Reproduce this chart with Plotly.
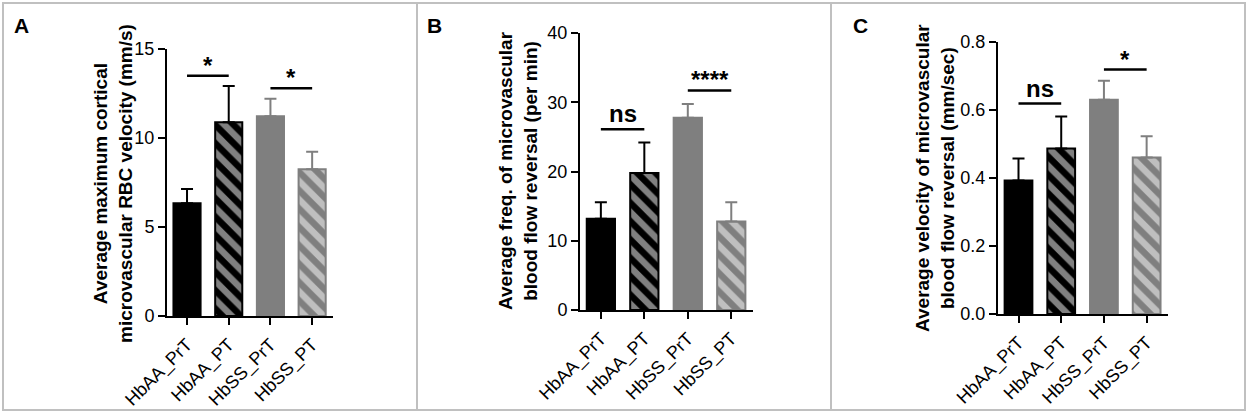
import plotly.graph_objects as go

# groups on the x axis
groups = ['HbAA_PrT', 'HbAA_PT', 'HbSS_PrT', 'HbSS_PT']

# panel A: max cortical RBC velocity (mm/s)
mean_a = [6.33, 10.88, 11.22, 8.24]
sem_a = [0.80, 2.04, 0.99, 0.99]
sig_a = [(0, 1, 13.5, '*'), (2, 3, 12.8, '*')]

# panel B: freq. of blood flow reversal (per min)
mean_b = [13.16, 19.8, 27.76, 12.77]
sem_b = [2.41, 4.39, 1.98, 2.8]
sig_b = [(0, 1, 26.1, 'ns'), (2, 3, 31.7, '****')]

# panel C: velocity of blood flow reversal (mm/sec)
mean_c = [0.393, 0.487, 0.630, 0.460]
sem_c = [0.064, 0.094, 0.056, 0.063]
sig_c = [(0, 1, 0.619, 'ns'), (2, 3, 0.719, '*')]

titles = ['Average maximum cortical<br>microvascular RBC velocity (mm/s)',
          'Average freq. of microvascular<br>blood flow reversal (per min)',
          'Average velocity of microvascular<br>blood flow reversal (mm/sec)']
letters = ['A', 'B', 'C']

FONT = 'Liberation Sans, Arial, sans-serif'
GRAY = '#7f7f7f'
bar_color = ['black', 'black', GRAY, GRAY]
hatched = [False, True, False, True]

W, H = 1248, 414
# pixel boxes of the three plot areas (left, right, bottom, top)
boxes = [(167, 333, 316, 49), (580, 753, 310, 33), (998, 1168, 314, 42)]
yranges = [[0, 15], [0, 40], [0, 0.8]]
ydticks = [5, 10, 0.2]
yfmt = ['d', 'd', '.1f']
title_pos = [(113, 184), (518, 171), (935, 178)]
letter_pos = [(21, 25), (434, 25), (860, 25)]

fig = go.Figure()
annotations = []

for p, (means, sems, sigs) in enumerate([(mean_a, sem_a, sig_a),
                                          (mean_b, sem_b, sig_b),
                                          (mean_c, sem_c, sig_c)]):
    sfx = '' if p == 0 else str(p + 1)
    xa, ya = 'x' + sfx, 'y' + sfx
    for i, g in enumerate(groups):
        c = bar_color[i]
        marker = dict(color=c, line=dict(color=c, width=2))
        if hatched[i]:
            marker['pattern'] = dict(shape='\\', fgcolor='white', bgcolor=c,
                                     fillmode='overlay', size=13, solidity=0.5)
        fig.add_trace(go.Bar(
            x=[g], y=[means[i]], width=0.65, marker=marker,
            error_y=dict(type='data', symmetric=False, array=[sems[i]],
                         arrayminus=[0], color=c, thickness=2, width=6),
            xaxis=xa, yaxis=ya, showlegend=False))
    for (i, j, h, txt) in sigs:
        fig.add_trace(go.Scatter(x=[groups[i], groups[j]], y=[h, h], mode='lines',
                                 line=dict(color='black', width=2.5),
                                 xaxis=xa, yaxis=ya, showlegend=False))
        annotations.append(dict(x=(i + j) / 2, y=h, xref=xa, yref=ya, text='<b>' + txt + '</b>',
                                showarrow=False, yanchor='bottom', yshift=-5 if txt != 'ns' else 0,
                                font=dict(family=FONT, size=24, color='black')))

    l, r, b, t = boxes[p]
    axis_common = dict(showline=True, linecolor='black', linewidth=2, ticks='outside',
                       tickcolor='black', tickwidth=2, ticklen=7, showgrid=False,
                       zeroline=False, automargin=False,
                       tickfont=dict(family=FONT, size=18, color='black'))
    fig.layout['xaxis' + sfx] = dict(axis_common, domain=[l / W, r / W], anchor=ya,
                                     type='category', categoryorder='array',
                                     categoryarray=groups, range=[-0.48, 3.5],
                                     tickangle=-45, ticklabelstandoff=2)
    fig.layout['yaxis' + sfx] = dict(axis_common, domain=[1 - b / H, 1 - t / H], anchor=xa,
                                     range=yranges[p], dtick=ydticks[p], tick0=0,
                                     tickformat=yfmt[p])
    tx, ty = title_pos[p]
    annotations.append(dict(x=tx / W, y=1 - ty / H, xref='paper', yref='paper',
                            text='<b>' + titles[p] + '</b>', textangle=-90, showarrow=False,
                            xanchor='center', yanchor='middle',
                            font=dict(family=FONT, size=19, color='black')))
    lx, ly = letter_pos[p]
    annotations.append(dict(x=lx / W, y=1 - ly / H, xref='paper', yref='paper',
                            text='<b>' + letters[p] + '</b>', showarrow=False,
                            xanchor='center', yanchor='middle',
                            font=dict(family=FONT, size=21, color='black')))

# gray frames round the panels
shapes = []
edges = [3, 417, 831, 1245]
for k in range(3):
    shapes.append(dict(type='rect', xref='paper', yref='paper',
                       x0=edges[k] / W, x1=edges[k + 1] / W, y0=1 - 410 / H, y1=1 - 3 / H,
                       line=dict(color='#c0c0c0', width=2)))

fig.update_layout(template='none', width=W, height=H,
                  margin=dict(l=0, r=0, t=0, b=0, autoexpand=False),
                  paper_bgcolor='white', plot_bgcolor='white', barmode='overlay',
                  annotations=annotations, shapes=shapes,
                  font=dict(family=FONT, color='black'))

# page body has an 8px default margin; drop it so the figure sits at 0,0
fig.write_html('out.html', config={'displayModeBar': False},
               post_script="document.body.style.margin='0';")
